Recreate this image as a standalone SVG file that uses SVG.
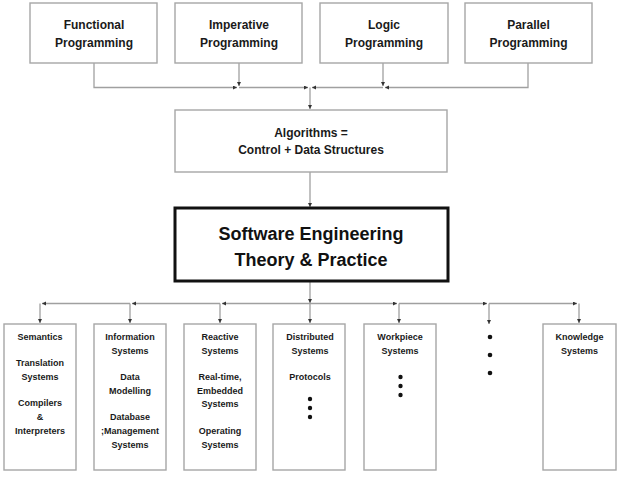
<svg xmlns="http://www.w3.org/2000/svg" width="633" height="481" viewBox="0 0 633 481">
<defs>
<style>
.box{fill:#fff;stroke:#a6a6a6;stroke-width:1.4}
.main{fill:#fff;stroke:#111;stroke-width:3}
.con{fill:none;stroke:#a0a0a0;stroke-width:1.3}
text{font-family:"Liberation Sans",Arial,sans-serif;font-weight:bold;fill:#1a1a1a;text-anchor:middle}
.t12{font-size:12px}
.t9{font-size:9px}
.t19{font-size:18px;fill:#111}
.dot{fill:#111}
</style>
<marker id="ah" markerUnits="userSpaceOnUse" markerWidth="5" markerHeight="5" refX="4" refY="2" orient="auto">
<path d="M0,0 L4,2 L0,4 z" fill="#333"/>
</marker>
</defs>
<rect width="633" height="481" fill="#fff"/>

<g id="connectors">
<path class="con" d="M94 63 V87.5 H237" marker-end="url(#ah)"/>
<path class="con" d="M239 63 V86" marker-end="url(#ah)"/>
<path class="con" d="M239 87.5 H308" marker-end="url(#ah)"/>
<path class="con" d="M528 63 V87.5 H385" marker-end="url(#ah)"/>
<path class="con" d="M383 63 V86" marker-end="url(#ah)"/>
<path class="con" d="M383 87.5 H312" marker-end="url(#ah)"/>
<path class="con" d="M310 87.5 V109" marker-end="url(#ah)"/>
<path class="con" d="M310 172 V207" marker-end="url(#ah)"/>
<path class="con" d="M310 282 V303" marker-end="url(#ah)"/>
<path class="con" d="M310 303.5 H222" marker-end="url(#ah)"/>
<path class="con" d="M220 303.5 H132" marker-end="url(#ah)"/>
<path class="con" d="M130 303.5 H42" marker-end="url(#ah)"/>
<path class="con" d="M310 303.5 H397" marker-end="url(#ah)"/>
<path class="con" d="M399 303.5 H487" marker-end="url(#ah)"/>
<path class="con" d="M489 303.5 H577" marker-end="url(#ah)"/>
<path class="con" d="M40 303.5 V323" marker-end="url(#ah)"/>
<path class="con" d="M130 303.5 V323" marker-end="url(#ah)"/>
<path class="con" d="M220 303.5 V323" marker-end="url(#ah)"/>
<path class="con" d="M310 303.5 V323" marker-end="url(#ah)"/>
<path class="con" d="M399 303.5 V323" marker-end="url(#ah)"/>
<path class="con" d="M489 303.5 V324" marker-end="url(#ah)"/>
<path class="con" d="M579 303.5 V323" marker-end="url(#ah)"/>
</g>

<g id="functional">
<rect class="box" x="30" y="3" width="127" height="60"/>
<text class="t12" x="94" y="28.5">Functional</text>
<text class="t12" x="94" y="46.5">Programming</text>
</g>
<g id="imperative">
<rect class="box" x="175" y="3" width="127" height="60"/>
<text class="t12" x="239" y="28.5">Imperative</text>
<text class="t12" x="239" y="46.5">Programming</text>
</g>
<g id="logic">
<rect class="box" x="320" y="3" width="128" height="60"/>
<text class="t12" x="384" y="28.5">Logic</text>
<text class="t12" x="384" y="46.5">Programming</text>
</g>
<g id="parallel">
<rect class="box" x="465" y="3" width="127" height="60"/>
<text class="t12" x="528.5" y="28.5">Parallel</text>
<text class="t12" x="528.5" y="46.5">Programming</text>
</g>

<g id="algorithms">
<rect class="box" x="175" y="110" width="272" height="62"/>
<text class="t12" x="311" y="136.5">Algorithms =</text>
<text class="t12" x="311" y="154">Control + Data Structures</text>
</g>

<g id="software-engineering">
<rect class="main" x="175" y="208" width="273" height="73"/>
<text class="t19" x="311" y="240">Software Engineering</text>
<text class="t19" x="311" y="266">Theory &amp; Practice</text>
</g>

<g id="semantics">
<rect class="box" x="4" y="324" width="72" height="146"/>
<text class="t9" x="40" y="340">Semantics</text>
<text class="t9" x="40" y="366">Translation</text>
<text class="t9" x="40" y="380">Systems</text>
<text class="t9" x="40" y="406">Compilers</text>
<text class="t9" x="40" y="420">&amp;</text>
<text class="t9" x="40" y="434">Interpreters</text>
</g>
<g id="information">
<rect class="box" x="94" y="324" width="72" height="146"/>
<text class="t9" x="130" y="340">Information</text>
<text class="t9" x="130" y="354">Systems</text>
<text class="t9" x="130" y="380">Data</text>
<text class="t9" x="130" y="394">Modelling</text>
<text class="t9" x="130" y="420">Database</text>
<text class="t9" x="130" y="434">;Management</text>
<text class="t9" x="130" y="448">Systems</text>
</g>
<g id="reactive">
<rect class="box" x="184" y="324" width="72" height="146"/>
<text class="t9" x="220" y="340">Reactive</text>
<text class="t9" x="220" y="354">Systems</text>
<text class="t9" x="220" y="380">Real-time,</text>
<text class="t9" x="220" y="394">Embedded</text>
<text class="t9" x="220" y="407">Systems</text>
<text class="t9" x="220" y="434">Operating</text>
<text class="t9" x="220" y="448">Systems</text>
</g>
<g id="distributed">
<rect class="box" x="273" y="324" width="72" height="146"/>
<text class="t9" x="310" y="340">Distributed</text>
<text class="t9" x="310" y="354">Systems</text>
<text class="t9" x="310" y="380">Protocols</text>
<circle class="dot" cx="310" cy="399" r="2.2"/>
<circle class="dot" cx="310" cy="408" r="2.2"/>
<circle class="dot" cx="310" cy="417" r="2.2"/>
</g>
<g id="workpiece">
<rect class="box" x="364" y="324" width="72" height="146"/>
<text class="t9" x="400" y="340">Workpiece</text>
<text class="t9" x="400" y="354">Systems</text>
<circle class="dot" cx="400.5" cy="377" r="2.2"/>
<circle class="dot" cx="400.5" cy="386" r="2.2"/>
<circle class="dot" cx="400.5" cy="395" r="2.2"/>
</g>
<g id="more">
<circle class="dot" cx="490" cy="337" r="2.3"/>
<circle class="dot" cx="490" cy="355" r="2.3"/>
<circle class="dot" cx="490" cy="373" r="2.3"/>
</g>
<g id="knowledge">
<rect class="box" x="543" y="324" width="73" height="146"/>
<text class="t9" x="579.5" y="340">Knowledge</text>
<text class="t9" x="579.5" y="354">Systems</text>
</g>
</svg>
